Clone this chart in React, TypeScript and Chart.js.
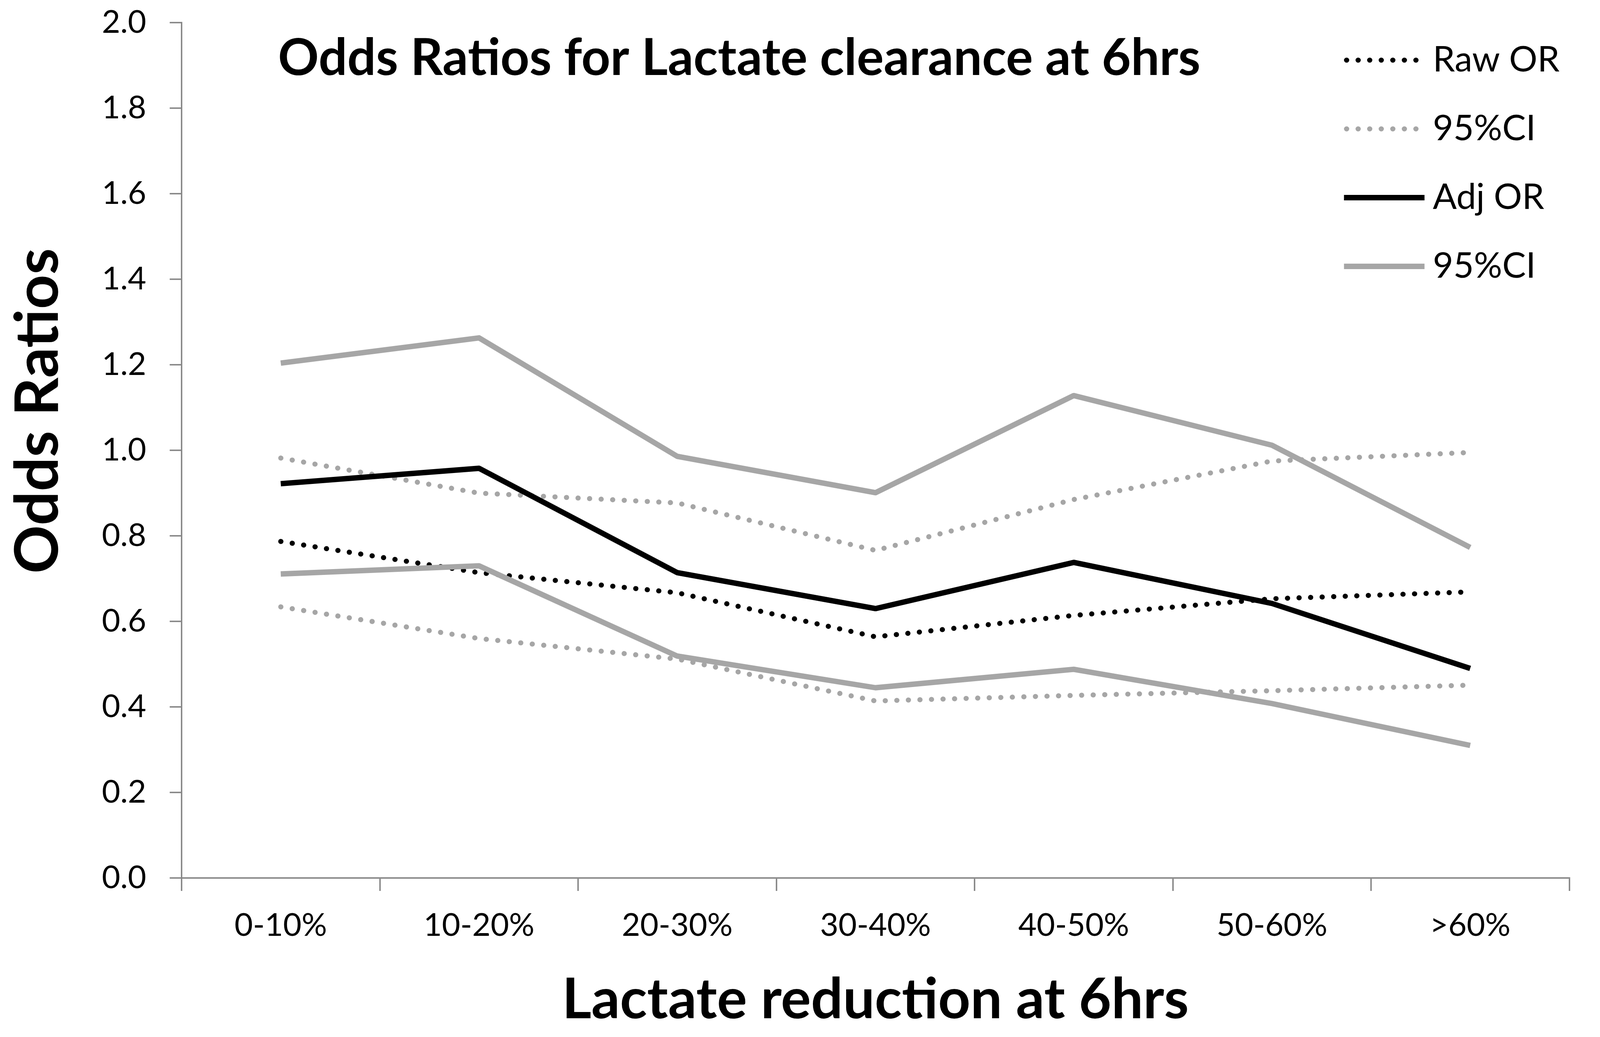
import React, { useEffect, useRef } from 'react';
import { Chart, registerables } from 'chart.js';

Chart.register(...registerables);

const categories = ['0-10%', '10-20%', '20-30%', '30-40%', '40-50%', '50-60%', '>60%'];

const rawOR = [0.787, 0.714, 0.667, 0.564, 0.614, 0.653, 0.669];
const rawCIUpper = [0.982, 0.9, 0.877, 0.766, 0.885, 0.975, 0.995];
const rawCILower = [0.634, 0.56, 0.512, 0.414, 0.427, 0.438, 0.451];

const adjOR = [0.922, 0.958, 0.714, 0.63, 0.738, 0.642, 0.49];
const adjCIUpper = [1.204, 1.263, 0.986, 0.901, 1.128, 1.012, 0.773];
const adjCILower = [0.711, 0.73, 0.519, 0.445, 0.488, 0.408, 0.31];

const chartTitle = 'Odds Ratios for Lactate clearance at 6hrs';
const xTitle = 'Lactate reduction at 6hrs';
const yTitle = 'Odds Ratios';

const BLACK = '#000000';
const GREY = '#a6a6a6';
const AXIS = '#868686';

// frame the layout numbers below were measured in
const W0 = 4431;
const H0 = 2655;

export default function App() {
  const canvasRef = useRef<HTMLCanvasElement>(null);

  useEffect(() => {
    document.body.style.margin = '0';
    const canvas = canvasRef.current;
    if (!canvas) return;
    const ctx = canvas.getContext('2d');
    if (!ctx) return;

    // the window may be narrower than the reference, so scale everything to it
    const box = canvas.parentElement!;
    const sx = box.clientWidth / W0;
    const sy = box.clientHeight / H0;
    const k = Math.min(sx, sy);
    const dots = [0.5 * k, 31.5 * k];

    // title, rotated y title and the legend sit inside the plot, so draw them by hand
    const overlay = {
      id: 'overlay',
      afterDraw(chart: any) {
        const c = chart.ctx;
        const fx = chart.width / W0;
        const fy = chart.height / H0;
        c.save();
        c.fillStyle = BLACK;
        c.font = `bold ${140 * k}px Lato, sans-serif`;
        c.textAlign = 'left';
        c.textBaseline = 'alphabetic';
        c.fillText(chartTitle, 770 * fx, 192 * fy);

        c.save();
        c.translate(160 * fx, 1052 * fy);
        c.rotate(-Math.PI / 2);
        c.font = `bold ${154 * fy}px Lato, sans-serif`;
        c.textAlign = 'center';
        c.fillText(yTitle, 0, 0);
        c.restore();

        let row = 0;
        chart.data.datasets.forEach((ds: any) => {
          if (!ds.inLegend) return;
          const y = (154 + row * 176) * fy;
          const dotted = !!ds.borderDash;
          c.beginPath();
          c.strokeStyle = ds.borderColor;
          c.lineWidth = ds.borderWidth;
          c.lineCap = dotted ? 'round' : 'butt';
          c.setLineDash(dotted ? ds.borderDash : []);
          c.moveTo((dotted ? 3729 : 3722) * fx, y);
          c.lineTo((dotted ? 3925 : 3945) * fx, y);
          c.stroke();
          c.setLineDash([]);
          c.fillStyle = BLACK;
          c.font = `${98 * k}px Lato, sans-serif`;
          c.textAlign = 'left';
          c.textBaseline = 'middle';
          c.fillText(ds.label, 3968 * fx, y);
          row++;
        });
        c.restore();
      },
    };

    const dotted = (label: string, data: number[], color: string, inLegend: boolean) => ({
      label, data, inLegend, order: 1,
      borderColor: color, borderWidth: 14 * k, borderDash: dots, borderCapStyle: 'round',
      fill: false, pointRadius: 0, tension: 0,
    });
    const solid = (label: string, data: number[], color: string, inLegend: boolean) => ({
      label, data, inLegend, order: 0,
      borderColor: color, borderWidth: 15 * k, borderJoinStyle: 'round',
      fill: false, pointRadius: 0, tension: 0,
    });

    const chart = new Chart(ctx, {
      type: 'line',
      data: {
        labels: categories,
        datasets: [
          dotted('Raw OR', rawOR, BLACK, true),
          dotted('95%CI', rawCIUpper, GREY, true),
          dotted('95%CI', rawCILower, GREY, false),
          solid('Adj OR', adjOR, BLACK, true),
          solid('95%CI', adjCIUpper, GREY, true),
          solid('95%CI', adjCILower, GREY, false),
        ] as any,
      },
      options: {
        responsive: true,
        maintainAspectRatio: false,
        animation: false,
        layout: {
          autoPadding: false,
          padding: { left: 0, top: 58 * sy, right: 85 * sx, bottom: 0 },
        },
        plugins: {
          legend: { display: false },
          tooltip: { enabled: false },
        },
        scales: {
          x: {
            type: 'category',
            offset: true,
            grid: { offset: true, drawOnChartArea: false, drawTicks: true, tickLength: 33 * sy, color: AXIS, lineWidth: 4 * k },
            border: { display: true, color: AXIS, width: 4 * k },
            ticks: {
              color: BLACK,
              font: { family: 'Lato, sans-serif', size: 88 * k },
              padding: 40 * sy,
              maxRotation: 0,
              autoSkip: false,
            },
            title: {
              display: true,
              text: xTitle,
              color: BLACK,
              font: { family: 'Lato, sans-serif', size: 156 * k, weight: 'bold' },
              padding: { top: 0, bottom: 8 * sy },
            },
            afterFit: (s: any) => { s.height = 407 * sy; },
          },
          y: {
            min: 0,
            max: 2,
            grid: { drawOnChartArea: false, drawTicks: true, tickLength: 33 * sx, color: AXIS, lineWidth: 4 * k },
            border: { display: true, color: AXIS, width: 4 * k },
            ticks: {
              stepSize: 0.2,
              color: BLACK,
              font: { family: 'Lato, sans-serif', size: 88 * k },
              padding: 65 * sx,
              callback: (v: any) => Number(v).toFixed(1),
            },
            afterFit: (s: any) => {
              s.width = 503 * sx;
              // the tick padding would otherwise push the plot top down
              s.paddingTop = 0;
              s.paddingBottom = 0;
            },
          },
        },
      } as any,
      plugins: [overlay],
    });

    return () => chart.destroy();
  }, []);

  return (
    <div style={{ position: 'relative', width: '100vw', height: '100vh', background: '#fff', overflow: 'hidden' }}>
      <canvas ref={canvasRef} style={{ display: 'block' }} />
    </div>
  );
}
